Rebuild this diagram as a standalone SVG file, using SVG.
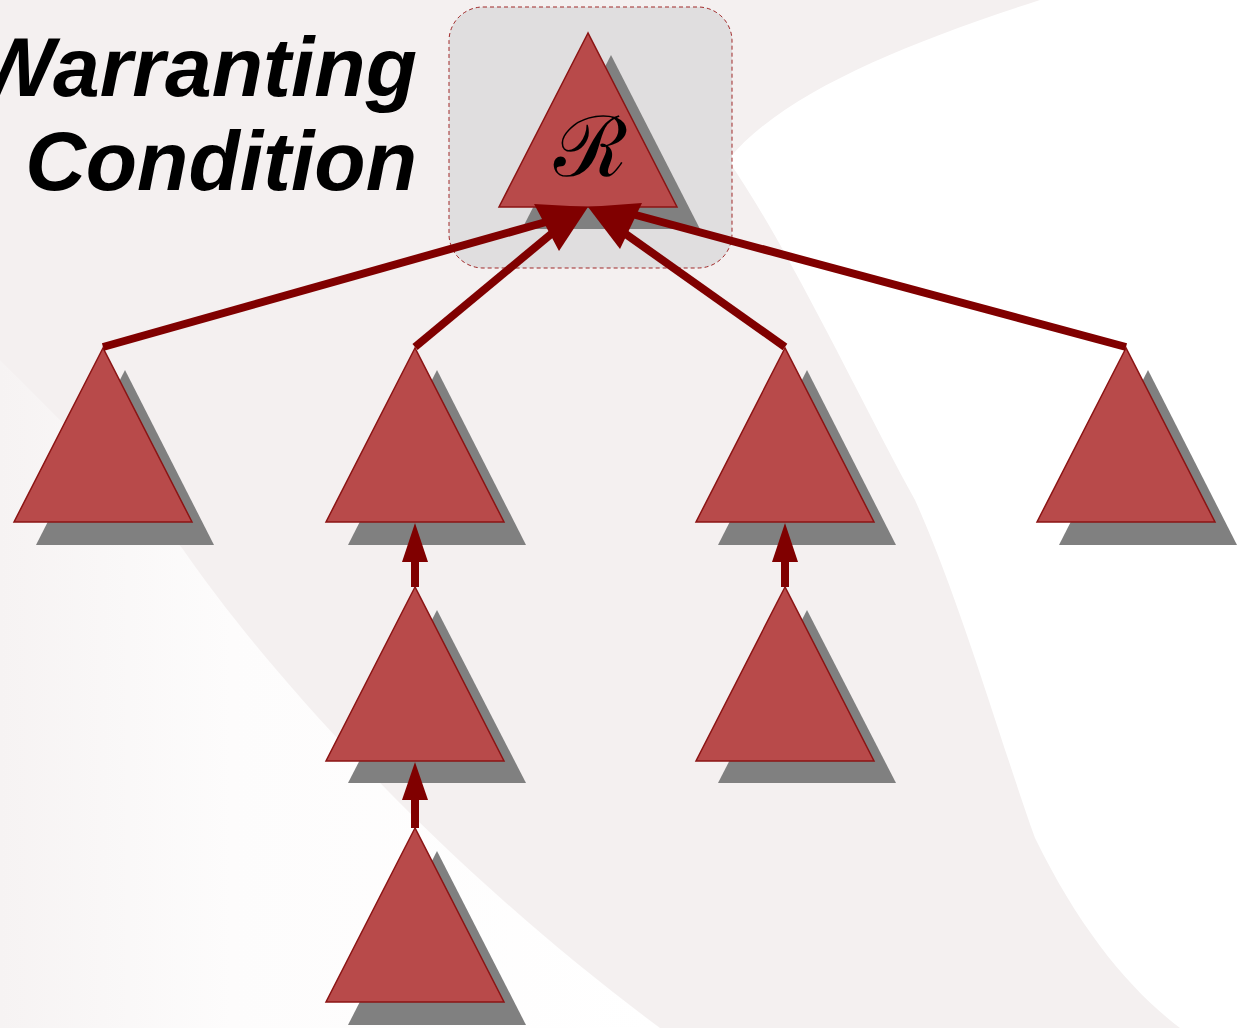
<svg xmlns="http://www.w3.org/2000/svg" width="1242" height="1028" viewBox="0 0 1242 1028">
<defs>
<linearGradient id="fade" x1="0" y1="0" x2="1" y2="0" gradientUnits="objectBoundingBox">
<stop offset="0" stop-color="#f6f3f3"/>
<stop offset="0.35" stop-color="#fdfcfc"/>
<stop offset="1" stop-color="#ffffff"/>
</linearGradient>
<style>
.tri{fill:#b84a4a;stroke:#8b1414;stroke-width:1.5;stroke-linejoin:miter}
.sh{fill:#808080}
.edge{stroke:#800000;stroke-width:8;fill:none;stroke-linecap:butt}
.head{fill:#800000}
.title{font-family:"Liberation Sans",Arial,sans-serif;font-weight:bold;font-style:italic;font-size:84px;fill:#000}
</style>
</defs>
<g id="background">
<rect x="0" y="0" width="1242" height="1028" fill="#f4f0f0"/>
<path d="M1040,0 C900,45 780,95 728,160 C790,250 860,400 915,500 C960,600 1000,740 1035,838 C1080,930 1130,990 1180,1028 L1242,1028 L1242,0 Z" fill="#ffffff"/>
<path d="M0,360 C80,440 140,500 182,548 C280,690 460,880 660,1028 L0,1028 Z" fill="url(#fade)"/>
</g>
<g id="title">
<text class="title" x="417" y="96" text-anchor="end">Warranting</text>
<text class="title" x="417" y="190" text-anchor="end">Condition</text>
</g>
<g id="warranting-box">
<rect x="449" y="7" width="283" height="261" rx="34" ry="34" fill="#dcdbdc" fill-opacity="0.85" stroke="#a02828" stroke-width="1" stroke-dasharray="4,3"/>
</g>
<g id="shadows">
<polygon class="sh" points="611,55 522,229 700,229"/>
<polygon class="sh" points="125,370 36,545 214,545"/>
<polygon class="sh" points="437,370 348,545 526,545"/>
<polygon class="sh" points="807,370 718,545 896,545"/>
<polygon class="sh" points="1148,370 1059,545 1237,545"/>
<polygon class="sh" points="437,610 348,783 526,783"/>
<polygon class="sh" points="807,610 718,783 896,783"/>
<polygon class="sh" points="437,851 348,1025 526,1025"/>
</g>
<g id="node-root">
<polygon class="tri" points="588,33 499,207 677,207"/>
<text x="590" y="176" text-anchor="middle" font-family="DejaVu Serif, serif" font-size="84" fill="#000">ℛ</text>
</g>
<g id="node-a"><polygon class="tri" points="103,348 14,522 192,522"/></g>
<g id="node-b"><polygon class="tri" points="415,348 326,522 504,522"/></g>
<g id="node-c"><polygon class="tri" points="785,348 696,522 874,522"/></g>
<g id="node-d"><polygon class="tri" points="1126,348 1037,522 1215,522"/></g>
<g id="node-b1"><polygon class="tri" points="415,587 326,761 504,761"/></g>
<g id="node-c1"><polygon class="tri" points="785,587 696,761 874,761"/></g>
<g id="node-b2"><polygon class="tri" points="415,828 326,1002 504,1002"/></g>
<g id="connectors">
<line class="edge" x1="103" y1="347" x2="546" y2="222"/>
<line class="edge" x1="415" y1="347" x2="556" y2="230"/>
<line class="edge" x1="785" y1="347" x2="620" y2="230"/>
<line class="edge" x1="1126" y1="347" x2="632" y2="214"/>
<polygon class="head" points="534,204 588,207 559,251"/>
<polygon class="head" points="588,207 642,203 620,249"/>
<line class="edge" x1="415" y1="587" x2="415" y2="558"/>
<polygon class="head" points="415,523 402,562 428,562"/>
<line class="edge" x1="785" y1="587" x2="785" y2="558"/>
<polygon class="head" points="785,523 772,562 798,562"/>
<line class="edge" x1="415" y1="828" x2="415" y2="797"/>
<polygon class="head" points="415,762 402,800 428,800"/>
</g>
</svg>
